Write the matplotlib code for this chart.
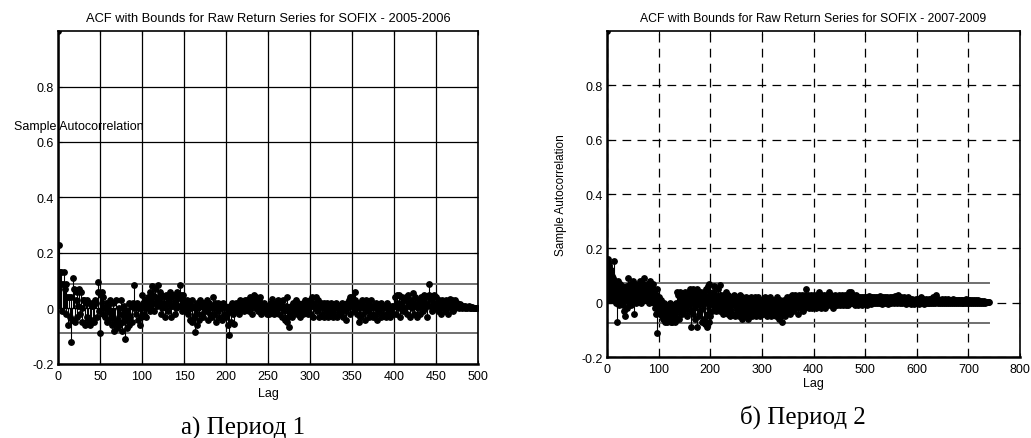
"""ACF stem plots of SOFIX raw returns for two periods, side by side."""

import numpy as np
from matplotlib import pyplot as plt

plt.rcParams["font.family"] = ["Liberation Sans", "DejaVu Sans"]

# sample autocorrelation, lags 0..499, period 2005-2006
ACF_P1 = [
    1.00, 0.23, 0.13, 0.09, 0.13, -0.01, 0.09, 0.13, 0.07, 0.09, -0.02, 0.04, -0.06, 0.04, -0.03, -0.12, 0.04, -0.04, 0.11, 0.07, -0.05, 0.03, -0.03, 0.06, 0.01,
    0.07, -0.02, 0.06, 0.00, -0.05, 0.03, 0.03, -0.06, 0.02, 0.03, -0.03, -0.05, 0.02, -0.06, -0.05, 0.01, 0.02, -0.04, -0.05, 0.03, 0.02, -0.03, 0.095, 0.06, -0.01,
    -0.09, 0.05, 0.06, -0.02, 0.04, 0.00, -0.03, 0.02, -0.05, -0.01, 0.01, -0.04, 0.03, -0.02, -0.06, -0.03, 0.02, -0.08, -0.05, 0.03, -0.07, -0.04, 0.00, -0.06, -0.02,
    0.03, -0.08, -0.05, -0.03, 0.01, -0.11, -0.04, -0.07, -0.02, 0.02, -0.06, -0.03, 0.01, -0.05, 0.02, 0.00, 0.085, 0.01, -0.02, 0.02, -0.04, 0.00, -0.06, 0.01, -0.03,
    0.05, 0.02, -0.02, 0.00, 0.03, -0.03, 0.01, 0.04, 0.02, -0.01, 0.06, 0.03, 0.08, 0.05, -0.01, 0.02, 0.07, 0.04, 0.01, 0.085, 0.03, 0.06, -0.02, 0.05, 0.00,
    0.02, 0.04, -0.03, 0.01, 0.05, 0.02, -0.01, 0.03, 0.06, -0.03, 0.04, 0.01, 0.05, 0.02, -0.02, 0.03, 0.00, 0.06, 0.04, 0.01, 0.085, 0.05, 0.03, -0.01, 0.05,
    0.00, 0.02, -0.01, 0.03, 0.01, -0.02, 0.02, -0.04, 0.00, 0.03, -0.05, 0.01, -0.03, -0.085, -0.02, 0.02, -0.06, 0.00, -0.04, 0.03, 0.01, -0.02, 0.02, -0.03, 0.00,
    0.02, -0.01, 0.03, -0.04, 0.00, 0.02, -0.02, 0.01, -0.03, 0.04, 0.00, -0.02, 0.02, -0.05, 0.01, -0.01, 0.02, -0.03, 0.00, 0.01, -0.04, 0.02, -0.02, 0.00, 0.01,
    -0.03, -0.02, -0.06, -0.095, -0.01, 0.01, -0.05, 0.02, -0.02, 0.00, -0.055, 0.01, 0.02, -0.01, 0.00, 0.02, -0.02, 0.03, 0.00, 0.01, 0.02, -0.01, 0.03, 0.01, 0.00,
    0.03, 0.02, -0.01, 0.04, 0.01, 0.03, -0.02, 0.02, 0.05, 0.03, 0.00, 0.04, 0.01, -0.01, 0.03, 0.02, 0.04, -0.02, 0.01, 0.00, 0.02, -0.01, 0.01, 0.00, -0.02,
    0.01, -0.02, 0.00, 0.02, -0.01, 0.035, 0.00, -0.02, 0.01, 0.02, -0.01, 0.00, 0.03, -0.02, 0.01, 0.02, -0.03, 0.00, 0.03, -0.01, -0.04, 0.01, -0.05, 0.04, -0.03,
    -0.065, -0.02, 0.01, -0.03, 0.00, 0.02, -0.01, 0.01, 0.03, -0.02, 0.00, 0.02, -0.01, -0.03, 0.01, 0.00, 0.02, -0.02, 0.01, 0.03, -0.01, 0.00, 0.02, -0.02, 0.01,
    0.03, -0.02, 0.04, 0.01, -0.03, 0.02, 0.00, 0.04, -0.01, 0.01, 0.03, -0.03, 0.00, 0.02, -0.02, 0.01, -0.03, 0.02, 0.00, -0.01, 0.02, -0.03, 0.01, -0.02, 0.00,
    0.02, -0.01, -0.03, 0.01, -0.02, 0.00, 0.02, -0.03, 0.01, -0.01, 0.00, -0.02, 0.01, 0.02, -0.03, 0.00, -0.01, 0.01, -0.04, 0.02, 0.00, 0.03, -0.02, 0.04, 0.01,
    0.04, 0.02, -0.01, 0.03, 0.06, 0.01, -0.02, 0.02, -0.05, 0.00, -0.03, 0.02, 0.03, -0.02, 0.01, -0.04, 0.00, 0.03, -0.01, 0.02, -0.03, 0.00, 0.03, -0.02, 0.01,
    -0.03, 0.01, 0.00, -0.02, 0.02, -0.04, 0.01, -0.01, 0.00, 0.02, -0.03, 0.01, -0.02, 0.00, 0.01, -0.03, 0.02, -0.02, 0.00, 0.01, -0.03, -0.01, 0.01, 0.00, -0.02,
    0.01, 0.04, -0.02, 0.05, 0.02, 0.00, 0.05, -0.03, 0.02, 0.04, 0.01, -0.01, 0.03, 0.00, 0.04, -0.02, 0.02, 0.05, 0.01, -0.03, 0.03, 0.00, 0.055, 0.02, -0.02,
    0.04, 0.01, -0.03, 0.03, 0.00, 0.02, -0.02, 0.04, 0.01, -0.01, 0.03, 0.05, 0.00, 0.02, -0.03, 0.04, 0.09, 0.05, 0.01, 0.03, -0.01, 0.04, 0.02, 0.05, 0.00,
    0.04, 0.02, -0.01, 0.03, 0.00, 0.02, -0.02, 0.03, 0.01, 0.00, 0.02, -0.01, 0.03, 0.01, -0.02, 0.02, 0.00, 0.035, 0.01, 0.03, -0.01, 0.02, 0.03, 0.00, 0.01,
    0.02, 0.01, 0.00, 0.015, 0.005, 0.01, 0.00, 0.01, 0.005, 0.00, 0.01, 0.005, 0.00, 0.005, 0.01, 0.00, 0.005, 0.00, 0.005, 0.00, 0.003, 0.00, 0.002, 0.00, 0.001,
]

# sample autocorrelation, lags 0..740, period 2007-2009
ACF_P2 = [
    1.00, 0.16, 0.15, 0.13, 0.14, 0.11, 0.08, 0.12, 0.06, 0.10, 0.03, 0.09, 0.05, 0.155, 0.02, 0.08, 0.04, 0.07, 0.00, 0.06, -0.07, 0.08, 0.03, 0.05, -0.01,
    0.07, 0.02, 0.04, 0.00, 0.06, 0.03, -0.01, 0.05, -0.03, 0.02, -0.05, 0.04, 0.01, 0.06, -0.02, 0.09, 0.03, 0.05, 0.00, 0.07, 0.02, 0.04, -0.01, 0.06, 0.03,
    0.08, 0.01, -0.04, 0.05, 0.02, 0.07, 0.00, 0.04, 0.03, 0.06, 0.01, 0.05, 0.02, 0.08, 0.03, 0.00, 0.06, 0.04, 0.02, 0.07, 0.05, 0.01, 0.09, 0.03, 0.06,
    0.02, 0.04, 0.07, 0.01, 0.05, 0.03, 0.00, 0.06, 0.02, 0.08, 0.04, 0.01, 0.05, 0.03, 0.07, 0.00, 0.04, 0.02, -0.02, 0.03, -0.04, 0.05, -0.11, 0.01, -0.01,
    0.02, -0.03, 0.00, -0.04, -0.02, 0.01, -0.05, -0.03, -0.01, -0.06, -0.02, 0.00, -0.04, -0.07, -0.03, -0.01, -0.05, -0.07, -0.02, -0.04, -0.06, -0.03, 0.00, -0.07, -0.05,
    -0.02, -0.07, -0.04, -0.01, -0.06, -0.03, -0.07, -0.02, 0.00, -0.05, 0.04, -0.03, -0.01, 0.03, -0.06, -0.02, 0.01, 0.04, -0.03, 0.00, 0.02, -0.04, 0.03, -0.01, 0.01,
    -0.03, 0.04, 0.00, -0.02, 0.03, -0.05, 0.02, -0.01, 0.04, 0.00, 0.05, -0.03, 0.02, -0.09, 0.03, 0.01, -0.04, 0.05, 0.00, -0.02, 0.04, -0.06, 0.01, 0.03, -0.09,
    0.05, -0.01, 0.02, -0.05, 0.03, 0.00, -0.03, 0.04, -0.07, 0.02, -0.02, 0.01, -0.06, 0.03, 0.04, -0.08, 0.00, 0.05, -0.09, 0.02, -0.04, 0.06, -0.07, 0.07, 0.01,
    -0.05, 0.03, 0.00, 0.02, -0.03, 0.04, -0.01, 0.02, 0.06, -0.02, 0.01, 0.03, -0.03, 0.00, 0.05, -0.02, 0.02, 0.01, 0.065, -0.03, 0.01, 0.03, -0.01, 0.02, -0.04,
    0.00, 0.03, -0.02, 0.01, -0.03, 0.02, 0.04, -0.01, 0.00, -0.04, 0.03, -0.02, 0.01, -0.05, 0.02, 0.00, -0.03, 0.01, -0.04, 0.02, -0.01, 0.03, -0.05, 0.00, -0.02,
    0.01, -0.04, 0.02, -0.03, 0.00, -0.05, 0.01, -0.02, 0.03, -0.04, 0.00, -0.06, 0.02, -0.01, -0.03, 0.01, -0.05, 0.00, -0.02, 0.02, -0.04, 0.01, -0.03, -0.06, 0.00,
    -0.02, 0.01, -0.04, 0.02, -0.01, -0.05, 0.00, -0.03, 0.01, -0.02, -0.04, 0.02, 0.00, -0.05, -0.01, 0.01, -0.03, -0.02, 0.02, -0.04, 0.00, -0.01, -0.05, 0.01, -0.02,
    -0.03, 0.00, -0.04, 0.01, -0.02, -0.01, 0.02, -0.03, 0.00, -0.05, 0.01, -0.02, -0.04, 0.00, -0.01, 0.02, -0.03, -0.05, 0.00, -0.02, 0.01, -0.04, -0.01, 0.00, -0.03,
    0.01, -0.02, -0.05, 0.00, -0.03, 0.02, -0.01, -0.04, 0.00, -0.06, -0.02, 0.01, -0.03, -0.07, -0.01, 0.00, -0.04, -0.02, 0.01, -0.03, -0.05, 0.00, -0.02, 0.02, -0.01,
    -0.03, 0.01, -0.02, 0.00, 0.02, -0.04, -0.01, 0.01, -0.02, 0.03, 0.00, -0.03, 0.01, 0.02, -0.01, 0.03, -0.02, 0.00, 0.02, -0.04, 0.01, 0.00, 0.03, -0.02, 0.01,
    0.02, -0.01, 0.03, 0.00, -0.03, 0.02, 0.01, -0.02, 0.03, 0.00, 0.05, 0.01, -0.01, 0.02, 0.00, 0.03, -0.02, 0.01, 0.02, -0.01, 0.03, 0.00, 0.01, -0.02, 0.02,
    0.00, 0.03, -0.01, 0.01, 0.02, -0.02, 0.03, 0.00, 0.01, -0.01, 0.02, 0.04, 0.00, 0.01, -0.02, 0.03, 0.01, 0.00, 0.02, -0.01, 0.03, 0.01, -0.02, 0.02, 0.00,
    0.01, 0.03, -0.01, 0.02, 0.00, 0.04, 0.01, -0.01, 0.02, 0.03, 0.00, 0.01, -0.02, 0.02, 0.01, 0.00, 0.03, -0.01, 0.01, 0.02, 0.00, -0.01, 0.02, 0.01, 0.03,
    0.00, 0.01, -0.01, 0.02, 0.00, 0.03, 0.01, -0.01, 0.02, 0.00, 0.01, 0.03, -0.01, 0.02, 0.01, 0.00, 0.02, -0.01, 0.04, 0.01, 0.00, 0.02, 0.04, 0.01, 0.00,
    0.02, 0.03, 0.00, 0.01, 0.02, -0.01, 0.01, 0.03, 0.00, 0.02, 0.01, -0.01, 0.02, 0.00, 0.01, 0.02, 0.00, 0.01, -0.01, 0.02, 0.01, 0.00, 0.02, 0.01, 0.00,
    0.01, 0.02, 0.00, 0.015, -0.01, 0.02, 0.01, 0.00, 0.025, 0.01, 0.00, 0.02, -0.005, 0.01, 0.02, 0.00, 0.01, 0.02, 0.005, 0.00, 0.015, 0.01, 0.02, 0.00, 0.01,
    0.02, 0.00, 0.01, 0.025, 0.005, 0.00, 0.015, 0.01, -0.005, 0.02, 0.01, 0.00, 0.015, 0.02, 0.005, 0.01, 0.00, 0.02, 0.01, -0.005, 0.015, 0.00, 0.01, 0.02, 0.005,
    0.01, 0.00, 0.02, 0.01, 0.005, 0.015, 0.00, 0.01, 0.025, 0.005, 0.01, 0.00, 0.02, 0.01, 0.03, 0.005, 0.015, 0.00, 0.01, 0.02, 0.005, 0.01, 0.00, 0.015, 0.01,
    0.005, 0.02, 0.00, 0.01, 0.015, -0.005, 0.01, 0.005, 0.02, 0.00, 0.01, 0.015, 0.005, -0.005, 0.01, 0.00, 0.015, 0.005, 0.01, -0.005, 0.00, 0.01, 0.005, 0.015, 0.00,
    0.01, 0.005, 0.00, 0.015, -0.005, 0.01, 0.005, 0.00, 0.02, 0.005, 0.01, 0.00, 0.015, 0.005, 0.01, -0.005, 0.01, 0.00, 0.015, 0.005, 0.01, 0.00, 0.005, 0.015, 0.00,
    0.01, 0.005, 0.015, 0.00, 0.01, 0.005, 0.02, 0.00, 0.01, 0.005, 0.015, 0.00, 0.01, 0.03, 0.005, 0.01, 0.00, 0.015, 0.005, 0.01, 0.00, 0.01, 0.005, 0.015, 0.00,
    0.01, 0.005, 0.00, 0.01, 0.015, 0.005, 0.00, 0.01, 0.005, 0.01, 0.00, 0.015, 0.005, 0.01, 0.00, 0.005, 0.01, 0.005, 0.00, 0.01, 0.005, 0.015, 0.00, 0.005, 0.01,
    0.005, 0.00, 0.01, 0.005, 0.01, 0.00, 0.005, 0.01, 0.00, 0.005, 0.01, 0.005, 0.00, 0.01, 0.005, 0.00, 0.005, 0.01, 0.00, 0.005, 0.01, 0.015, 0.005, 0.00, 0.01,
    0.005, 0.01, 0.00, 0.005, 0.01, 0.005, 0.00, 0.005, 0.01, 0.00, 0.005, 0.01, 0.005, 0.00, 0.005, 0.01, 0.00, 0.005, 0.003, 0.008, 0.00, 0.005, 0.003, 0.006, 0.00,
    0.004, 0.002, 0.006, 0.00, 0.004, 0.002, 0.005, 0.00, 0.003, 0.002, 0.004, 0.001, 0.003, 0.002, 0.001, 0.002,
]

BOUND_P1 = 0.09
BOUND_P2 = 0.073

YTICKS = [-0.2, 0, 0.2, 0.4, 0.6, 0.8]
YTICKLABELS = ["-0.2", "0", "0.2", "0.4", "0.6", "0.8"]
XTICKS_P1 = list(range(0, 501, 50))
XTICKS_P2 = list(range(0, 801, 100))

TITLE_P1 = "ACF with Bounds for Raw Return Series for SOFIX - 2005-2006"
TITLE_P2 = "ACF with Bounds for Raw Return Series for SOFIX - 2007-2009"
CAPTION_P1 = "а) Период 1"
CAPTION_P2 = "б) Период 2"


def draw_acf(ax, acf, bound, xticks, title, grid_style, title_size, lag_pad):
    acf = np.asarray(acf)
    lags = np.arange(len(acf))
    markers, stems, base = ax.stem(lags, acf, basefmt="k-")
    plt.setp(stems, color="black", linewidth=0.8)
    plt.setp(markers, color="black", markersize=3.9)
    plt.setp(base, color="black", linewidth=0.8)
    ax.plot([0, lags[-1]], [bound, bound], color="#707070", linewidth=1.4, zorder=1)
    ax.plot([0, lags[-1]], [-bound, -bound], color="#707070", linewidth=1.4, zorder=1)

    ax.set_xlim(xticks[0], xticks[-1])
    ax.set_ylim(-0.2, 1.0)
    ax.set_xticks(xticks)
    ax.set_xticklabels([str(t) for t in xticks])
    ax.set_yticks(YTICKS)
    ax.set_yticklabels(YTICKLABELS)
    ax.tick_params(direction="in", top=True, right=True, length=3, labelsize=9, pad=3)
    ax.tick_params(axis="x", pad=4)
    ax.grid(True, color="black", zorder=0, **grid_style)
    ax.set_axisbelow(True)
    for side in ("left", "bottom"):
        ax.spines[side].set_linewidth(1.8)
    for side in ("top", "right"):
        ax.spines[side].set_linewidth(1.2)
    ax.set_title(title, fontsize=title_size, pad=7)
    ax.set_xlabel("Lag", fontsize=9, labelpad=lag_pad)


fig = plt.figure(figsize=(10.31, 4.39), dpi=100)
ax1 = fig.add_axes([0.0563, 0.1686, 0.4074, 0.7585])
ax2 = fig.add_axes([0.5888, 0.1845, 0.4005, 0.7426])

draw_acf(ax1, ACF_P1, BOUND_P1, XTICKS_P1, TITLE_P1,
         dict(linestyle="-", linewidth=0.9), 9.3, 4)
draw_acf(ax2, ACF_P2, BOUND_P2, XTICKS_P2, TITLE_P2,
         dict(linestyle=(0, (7, 5)), linewidth=0.9), 8.8, 2)

# left panel keeps its y label horizontal, laid over the axes
ax1.set_ylabel("Sample Autocorrelation", fontsize=9, rotation=0, ha="center", va="center")
ax1.yaxis.set_label_coords(0.05, 0.715)
ax2.set_ylabel("Sample Autocorrelation", fontsize=8.5)
ax2.yaxis.set_label_coords(-0.097, 0.5)

fig.text(243 / 1031, 1 - 428 / 439, CAPTION_P1, ha="center", va="center",
         fontsize=18, family=["Liberation Serif", "DejaVu Serif"])
fig.text(803 / 1031, 1 - 417 / 439, CAPTION_P2, ha="center", va="center",
         fontsize=18, family=["Liberation Serif", "DejaVu Serif"])

fig.savefig("out.png", facecolor="white")
